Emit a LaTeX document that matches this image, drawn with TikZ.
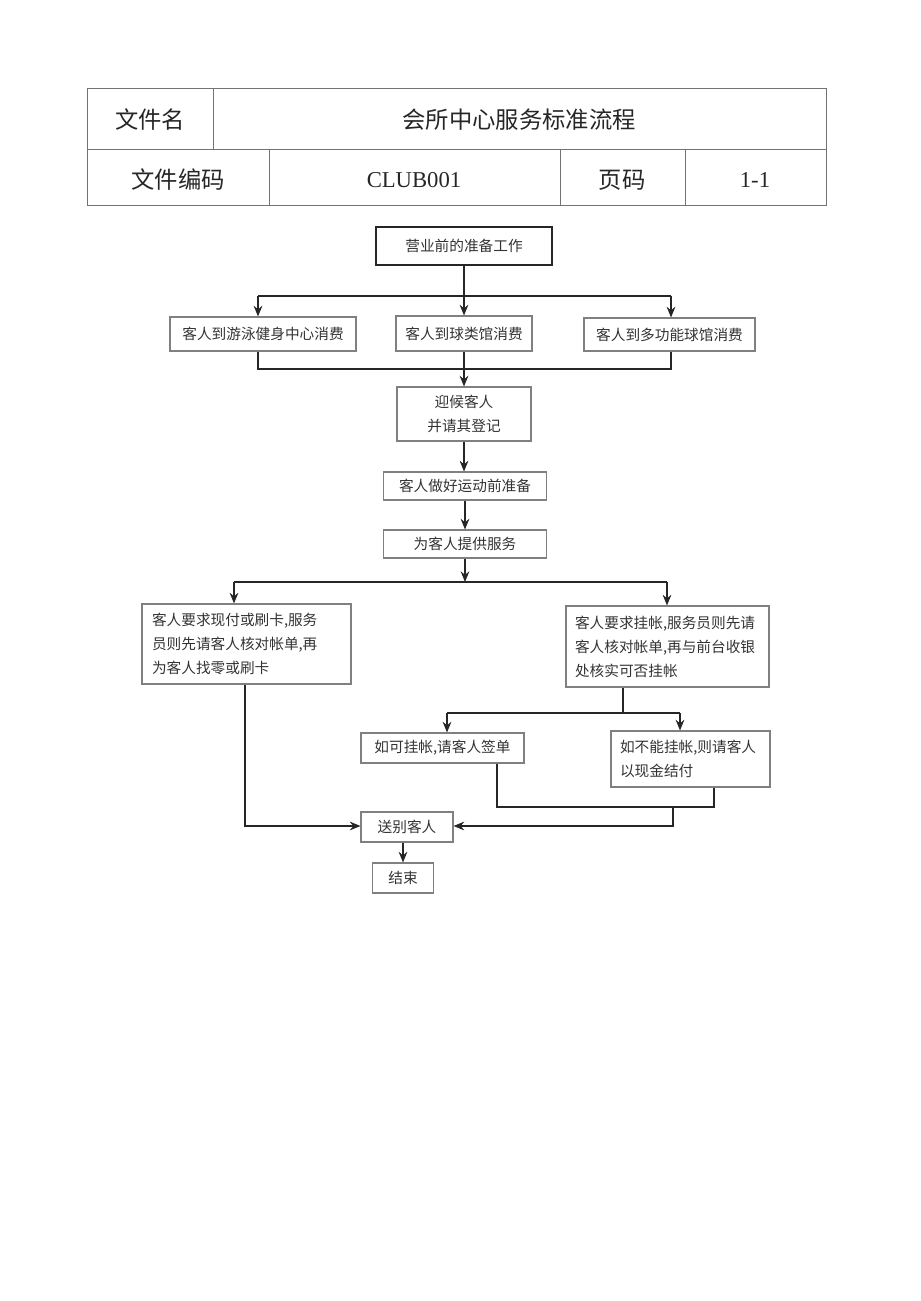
\documentclass[tikz,border=0pt]{standalone}
\usepackage{fontspec}
\setmainfont{Liberation Serif}
\newfontfamily\cjk{Noto Sans CJK SC}
\usetikzlibrary{arrows.meta}

\tikzset{
  cell/.style={font=\cjk\fontsize{17.5}{20}\selectfont, text=black!85},
  latin/.style={font=\fontsize{17}{20}\selectfont, text=black!85},
  grid/.style={draw=black!55, line width=0.7pt},
  box/.style={draw=black!50, line width=0.8pt, inner sep=0pt, text=black!80,
    font=\cjk\fontsize{11}{18}\selectfont},
  sz/.style 2 args={minimum width=#1*0.75pt, minimum height=#2*0.75pt},
  line/.style={draw=black!85, line width=1pt},
  arr/.style={line, -{Stealth[length=8pt,width=6.5pt]}},
}

\begin{document}
\begin{tikzpicture}[x=0.75pt,y=-0.75pt]
  \useasboundingbox (0,0) rectangle (920,1301);

  % header table
  \draw[grid] (87,88) rectangle (826,205);
  \draw[grid] (87,149) -- (826,149);
  \draw[grid] (213,88) -- (213,149);
  \draw[grid] (269,149) -- (269,205)
    (560,149) -- (560,205) (685,149) -- (685,205);
  \node[cell]  (fname)  at (150,120) {文件名};
  \node[cell]  (title)  at (519,120) {会所中心服务标准流程};
  \node[cell]  (fcode)  at (178,180) {文件编码};
  \node[latin] (code)   at (414,180) {CLUB001};
  \node[cell]  (pgname) at (622,180) {页码};
  \node[latin] (page)   at (755,180) {1-1};

  % flow boxes
  \node[box, sz={176}{38}, draw=black!85, line width=1.2pt] (prep) at (464,246) {营业前的准备工作};
  \node[box, sz={186}{34}] (swim)  at (263,334) {客人到游泳健身中心消费};
  \node[box, sz={136}{35}] (ball)  at (464,333.5) {客人到球类馆消费};
  \node[box, sz={171}{33}] (multi) at (669.5,334.5) {客人到多功能球馆消费};
  \node[box, sz={134}{54}, align=center] (greet) at (464,414) {迎候客人\\并请其登记};
  \node[box, sz={163}{28}] (warm)  at (465,486) {客人做好运动前准备};
  \node[box, sz={163}{28}] (serve) at (465,544) {为客人提供服务};
  \node[box, sz={209}{80}, align=left, text width=189*0.75pt] (cash) at (246.5,644)
    {客人要求现付或刷卡,服务\\员则先请客人核对帐单,再\\为客人找零或刷卡};
  \node[box, sz={203}{81}, align=left, text width=185*0.75pt] (credit) at (667.5,646.5)
    {客人要求挂帐,服务员则先请\\客人核对帐单,再与前台收银\\处核实可否挂帐};
  \node[box, sz={163}{30}] (sign) at (442.5,748) {如可挂帐,请客人签单};
  \node[box, sz={159}{56}, align=left, text width=141*0.75pt] (nocr) at (690.5,759)
    {如不能挂帐,则请客人\\以现金结付};
  \node[box, sz={92}{30}] (bye) at (407,827) {送别客人};
  \node[box, sz={61}{30}] (fin) at (403,878) {结束};

  % junctions
  \coordinate (t1l) at (258,296);
  \coordinate (t1r) at (671,296);
  \coordinate (b1l) at (258,369);
  \coordinate (b1r) at (671,369);
  \coordinate (t2) at (465,582);
  \coordinate (t2l) at (234,582);
  \coordinate (t2r) at (667,582);
  \coordinate (t3) at (623,713);
  \coordinate (t3l) at (447,713);
  \coordinate (t3r) at (680,713);
  \coordinate (b3l) at (497,807);
  \coordinate (b3r) at (714,807);
  \coordinate (b3m) at (673,807);
  \coordinate (c3) at (673,826);
  \coordinate (c1) at (245,826);

  % connectors
  \draw[arr] (prep) -- (ball);
  \draw[line] (t1l) -- (t1r);
  \draw[arr] (t1l) -- (t1l |- swim.north);
  \draw[arr] (t1r) -- (t1r |- multi.north);
  \draw[line] (swim.south -| b1l) -- (b1l) -- (b1r) -- (multi.south -| b1r);
  \draw[arr] (ball) -- (greet);
  \draw[arr] (greet) -- (greet |- warm.north);
  \draw[arr] (warm) -- (serve);
  \draw[arr] (serve) -- (t2);
  \draw[line] (t2l) -- (t2r);
  \draw[arr] (t2l) -- (t2l |- cash.north);
  \draw[arr] (t2r) -- (t2r |- credit.north);
  \draw[line] (credit.south -| t3) -- (t3);
  \draw[line] (t3l) -- (t3r);
  \draw[arr] (t3l) -- (t3l |- sign.north);
  \draw[arr] (t3r) -- (t3r |- nocr.north);
  \draw[line] (sign.south -| b3l) -- (b3l) -- (b3r) -- (nocr.south -| b3r);
  \draw[arr] (b3m) -- (c3) -- (bye.east |- c3);
  \draw[arr] (cash.south -| c1) -- (c1) -- (bye.west |- c1);
  \draw[arr] (bye.south -| fin) -- (fin);
\end{tikzpicture}
\end{document}
